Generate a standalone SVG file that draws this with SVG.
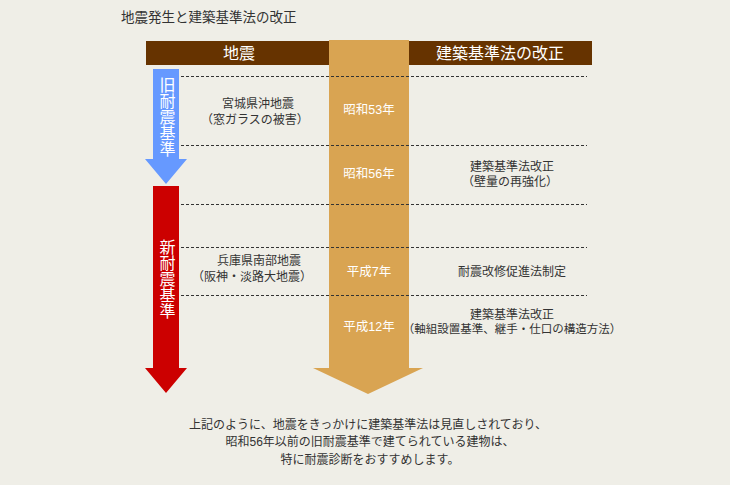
<svg xmlns="http://www.w3.org/2000/svg" width="730" height="485" viewBox="0 0 730 485">
<style>
text{font-family:"Liberation Sans","Noto Sans CJK JP","Noto Sans CJK SC",sans-serif;}
.d{fill:#333;font-size:12px;text-anchor:middle;}
.w{fill:#fff;font-size:12.5px;text-anchor:middle;}
.h{fill:#fff;font-size:16px;text-anchor:middle;}
.v{fill:#fff;font-size:16px;writing-mode:vertical-rl;}
.dash{stroke:#333;stroke-width:1;stroke-dasharray:3,2;fill:none;}
</style>
<rect width="730" height="485" fill="#efeee7"/>
<text id="title" x="121" y="22" fill="#333" font-size="13.5">地震発生と建築基準法の改正</text>
<g id="header">
<rect x="146" y="41" width="446" height="24" fill="#663300"/>
<text class="h" x="239" y="59">地震</text>
<text class="h" x="500" y="59">建築基準法の改正</text>
</g>
<g id="timeline">
<polygon points="329,40 409,40 409,368 423,368 368,394 313,368 329,368" fill="#d9a452"/>
<text class="w" x="369" y="114">昭和53年</text>
<text class="w" x="369" y="178">昭和56年</text>
<text class="w" x="369" y="276">平成7年</text>
<text class="w" x="369" y="331">平成12年</text>
</g>
<g id="connectors">
<line class="dash" x1="181" y1="76.5" x2="587" y2="76.5"/>
<line class="dash" x1="181" y1="145.5" x2="587" y2="145.5"/>
<line class="dash" x1="181" y1="204.5" x2="587" y2="204.5"/>
<line class="dash" x1="181" y1="247.5" x2="587" y2="247.5"/>
<line class="dash" x1="181" y1="295.5" x2="587" y2="295.5"/>
</g>
<g id="old-standard">
<polygon points="153,69 179,69 179,159 187,159 166,184 145,159 153,159" fill="#6699ff"/>
<text class="v" x="166" y="77">旧耐震基準</text>
</g>
<g id="new-standard">
<polygon points="153,186 179,186 179,368 187,368 166,393 145,368 153,368" fill="#cc0000"/>
<text class="v" x="166" y="239">新耐震基準</text>
</g>
<g id="miyagi">
<text class="d"><tspan x="258" y="108">宮城県沖地震</tspan><tspan x="255" y="124">（窓ガラスの被害）</tspan></text>
</g>
<g id="hyogo">
<text class="d"><tspan x="259" y="265">兵庫県南部地震</tspan><tspan x="252" y="281">（阪神・淡路大地震）</tspan></text>
</g>
<g id="s56">
<text class="d"><tspan x="512" y="171">建築基準法改正</tspan><tspan x="510" y="186">（壁量の再強化）</tspan></text>
</g>
<g id="h7">
<text class="d" x="512" y="276">耐震改修促進法制定</text>
</g>
<g id="h12">
<text class="d"><tspan x="512" y="319">建築基準法改正</tspan><tspan x="512" y="333" font-size="11.5">（軸組設置基準、継手・仕口の構造方法）</tspan></text>
</g>
<g id="note">
<text class="d" x="368" y="429">上記のように、地震をきっかけに建築基準法は見直しされており、</text>
<text class="d" x="370" y="446">昭和56年以前の旧耐震基準で建てられている建物は、</text>
<text class="d" x="370" y="464">特に耐震診断をおすすめします。</text>
</g>
</svg>
